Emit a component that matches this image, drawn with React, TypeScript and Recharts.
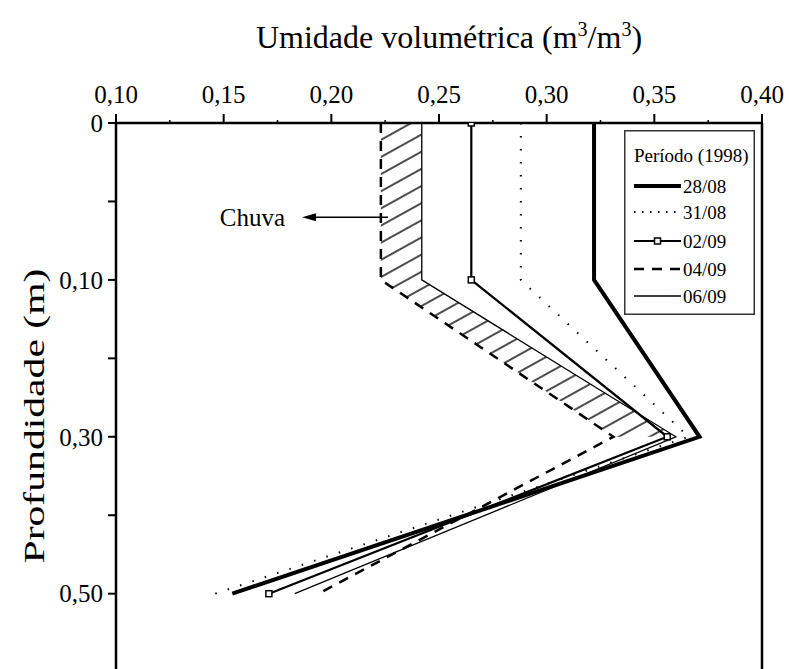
import React from 'react';
import { ComposedChart, Line, Area, XAxis, YAxis, Legend, ReferenceLine } from 'recharts';

// profundidade: posições igualmente espaçadas no eixo
const depthIndex = [0, 1, 2, 3];
const depthLabels = ['0', '0,10', '0,30', '0,50'];
const depthMinor = [0.5, 1.5, 2.5];

const xMajorTicks = [0.1, 0.15, 0.2, 0.25, 0.3, 0.35, 0.4];
const xMajorLabels = ['0,10', '0,15', '0,20', '0,25', '0,30', '0,35', '0,40'];
const xMinorTicks = [0.125, 0.175, 0.225, 0.275, 0.325, 0.375];

// umidade volumétrica por data
const s2808 = [0.322, 0.322, 0.371, 0.154];
const s3108 = [0.288, 0.288, 0.366, 0.146];
const s0209 = [0.265, 0.265, 0.356, 0.171];
const s0409 = [0.223, 0.223, 0.331, 0.194];
const s0609 = [0.242, 0.242, 0.36, 0.183];

const rows = depthIndex.map((d, i) => ({
  d,
  s2808: s2808[i],
  s3108: s3108[i],
  s0209: s0209[i],
  s0409: s0409[i],
  s0609: s0609[i],
  chuva: i < 3 ? [s0409[i], s0609[i]] : null,
}));

const FONT = "'Liberation Serif', 'Times New Roman', serif";
const Y_MAX = 3.48;

const SERIES = [
  { key: 's2808', name: '28/08', width: 4, dash: undefined as string | undefined, square: false },
  { key: 's3108', name: '31/08', width: 2, dash: '1.5 11.5', square: false },
  { key: 's0209', name: '02/09', width: 2.2, dash: undefined, square: true },
  { key: 's0409', name: '04/09', width: 2.5, dash: '10 8', square: false },
  { key: 's0609', name: '06/09', width: 1.3, dash: undefined, square: false },
];

const near = (a: number, b: number) => Math.abs(a - b) < 1e-6;

const XTick = (props: any) => {
  const { x, y, payload } = props;
  const idx = xMajorTicks.findIndex(t => near(t, payload.value));
  if (idx < 0) {
    return <line x1={x} y1={y} x2={x} y2={y - 3} stroke="#000" strokeWidth={1.5} />;
  }
  return (
    <g>
      <line x1={x} y1={y} x2={x} y2={y - 9} stroke="#000" strokeWidth={2} />
      <text x={x} y={y - 20} textAnchor="middle" fontSize={25} fontFamily={FONT} fill="#000">
        {xMajorLabels[idx]}
      </text>
    </g>
  );
};

const YTick = (props: any) => {
  const { x, y, payload } = props;
  const idx = depthIndex.findIndex(t => near(t, payload.value));
  return (
    <g>
      <line x1={x} y1={y} x2={x - 8} y2={y} stroke="#000" strokeWidth={2} />
      {idx >= 0 && (
        <text x={x - 13} y={y} dy="0.35em" textAnchor="end" fontSize={25} fontFamily={FONT} fill="#000">
          {depthLabels[idx]}
        </text>
      )}
    </g>
  );
};

const SquareDot = (props: any) => {
  const { cx, cy } = props;
  if (cx == null || cy == null) return null;
  return <rect x={cx - 3} y={cy - 3} width={6} height={6} fill="#fff" stroke="#000" strokeWidth={1.5} />;
};

const ChuvaArrow = (props: any) => {
  const { x1, y1, x2, y2 } = props;
  return (
    <g>
      <line x1={x1} y1={y1} x2={x2 + 12} y2={y2} stroke="#000" strokeWidth={1.5} />
      <polygon points={`${x2},${y2} ${x2 + 14},${y2 - 4} ${x2 + 14},${y2 + 4}`} fill="#000" />
      <text x={x2 - 17} y={y2} dy="0.35em" textAnchor="end" fontSize={25} fontFamily={FONT} fill="#000">
        Chuva
      </text>
    </g>
  );
};

const LegendBox = () => (
  <svg width={131} height={185} style={{ display: 'block' }}>
    <rect x={0.75} y={0.75} width={129.5} height={183.5} fill="#fff" stroke="#333" strokeWidth={1.5} />
    <text x={10} y={32} fontSize={19} fontFamily={FONT} fill="#000">Período (1998)</text>
    {SERIES.map((s, i) => {
      const cy = [56, 82, 111, 139, 166][i];
      return (
        <g key={s.key}>
          <line x1={10} y1={cy} x2={57} y2={cy} stroke="#000" strokeWidth={s.width} strokeDasharray={s.key === 's3108' ? '1.5 6.5' : s.dash} />
          {s.square && <rect x={30.5} y={cy - 3} width={6} height={6} fill="#fff" stroke="#000" strokeWidth={1.5} />}
          <text x={59} y={cy} dy="0.35em" fontSize={19} fontFamily={FONT} fill="#000">{s.name}</text>
        </g>
      );
    })}
  </svg>
);

export default function App() {
  return (
    <div style={{ position: 'absolute', left: 0, top: 0, background: '#fff' }}>
      <ComposedChart
        width={789}
        height={669}
        layout="vertical"
        data={rows}
        margin={{ top: 63, right: 27, bottom: 0, left: 36 }}
      >
        <defs>
          <pattern id="hatch" patternUnits="userSpaceOnUse" width={20} height={15} patternTransform="rotate(-29)">
            <line x1={0} y1={7} x2={20} y2={7} stroke="#000" strokeWidth={1.4} />
          </pattern>
        </defs>
        <XAxis
          type="number"
          orientation="top"
          domain={[0.1, 0.4]}
          ticks={[...xMajorTicks, ...xMinorTicks].sort((a, b) => a - b)}
          interval={0}
          height={60}
          tickSize={0}
          tickMargin={0}
          tickLine={false}
          tick={<XTick />}
          axisLine={{ stroke: '#000', strokeWidth: 2.5 }}
          allowDataOverflow
          label={{
            content: () => (
              <text x={449} y={48} textAnchor="middle" fontSize={32} fontFamily={FONT} fill="#000">
                Umidade volumétrica (m
                <tspan dy={-12} fontSize={20}>3</tspan>
                <tspan dy={12}>/m</tspan>
                <tspan dy={-12} fontSize={20}>3</tspan>
                <tspan dy={12}>)</tspan>
              </text>
            ),
          }}
        />
        <YAxis
          type="number"
          dataKey="d"
          domain={[0, Y_MAX]}
          ticks={[...depthIndex, ...depthMinor].sort((a, b) => a - b)}
          interval={0}
          width={80}
          tickSize={0}
          tickMargin={0}
          tickLine={false}
          tick={<YTick />}
          axisLine={{ stroke: '#000', strokeWidth: 2.5 }}
          allowDataOverflow
          label={{
            content: () => {
              const cx = 33;
              const cy = 416;
              return (
                <text
                  x={cx}
                  y={cy}
                  dy="0.35em"
                  textAnchor="middle"
                  fontSize={30}
                  textLength={295}
                  lengthAdjust="spacingAndGlyphs"
                  fontFamily={FONT}
                  fill="#000"
                  transform={`rotate(-90, ${cx}, ${cy})`}
                >
                  Profundidade (m)
                </text>
              );
            },
          }}
        />
        <ReferenceLine x={0.4} stroke="#000" strokeWidth={2.5} />
        <Area
          dataKey="chuva"
          fill="url(#hatch)"
          fillOpacity={1}
          stroke="none"
          legendType="none"
          isAnimationActive={false}
          connectNulls={false}
        />
        {SERIES.map(s => (
          <Line
            key={s.key}
            dataKey={s.key}
            name={s.name}
            stroke="#000"
            strokeWidth={s.width}
            strokeDasharray={s.dash}
            dot={s.square ? <SquareDot /> : false}
            activeDot={false}
            isAnimationActive={false}
          />
        ))}
        <ReferenceLine
          segment={[{ x: 0.2263, y: 0.6 }, { x: 0.1864, y: 0.6 }]}
          shape={<ChuvaArrow />}
        />
        <Legend
          layout="vertical"
          align="center"
          verticalAlign="middle"
          wrapperStyle={{ position: 'absolute', left: 624, top: 130, width: 131 }}
          content={() => <LegendBox />}
        />
      </ComposedChart>
    </div>
  );
}
